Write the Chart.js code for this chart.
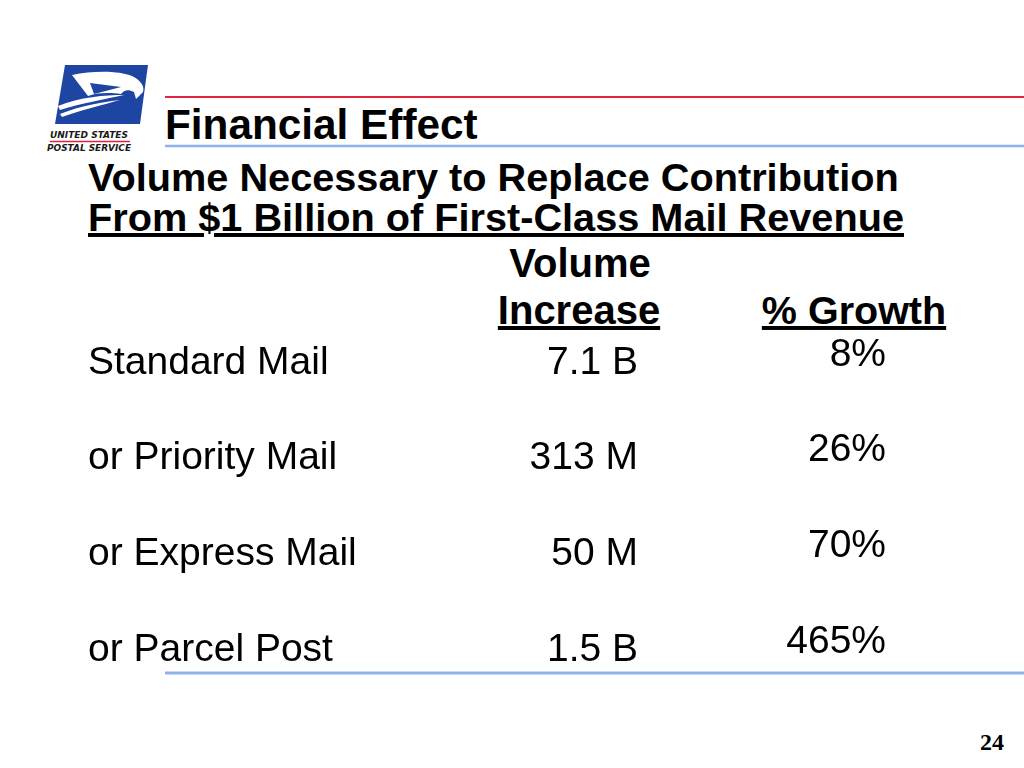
<!DOCTYPE html>
<html>
<head>
<meta charset="utf-8">
<title>Financial Effect</title>
<script src="https://cdn.jsdelivr.net/npm/chart.js@4.4.1/dist/chart.umd.min.js"></script>
<style>
  html, body { margin: 0; padding: 0; background: #fff; }
  #slide { position: relative; width: 1024px; height: 768px; overflow: hidden; font-family: "Liberation Sans", Arial, Helvetica, sans-serif; }
  #slide svg { position: absolute; left: 0; top: 0; }
  #tableWrap { position: absolute; left: 0; top: 291px; width: 1024px; height: 431px; }
</style>
</head>
<body>
<div id="slide">
  <svg width="1024" height="768" viewBox="0 0 1024 768">
    <!-- logo -->
    <polygon points="65,65 148,65 140,124 55,124" fill="#1f45a3"/>
    <path d="M72,75 C95,70 120,71 132,76 C140,80 145,86 143,92 L136,99 L134,92 C128,89 124,90 121,94 C112,93 100,92 88,96 Z" fill="#fff"/>
    <path d="M90,83 L121,87 L94,94 Z" fill="#1f45a3"/>
    <path d="M58,106 C80,97 105,95 124,95 C106,99 82,103 60,110 Z" fill="#fff"/>
    <path d="M60,114 C82,105 104,102 120,100 C103,105 84,109 62,117 Z" fill="#fff"/>
    <text x="50" y="138" font-family="DejaVu Sans, sans-serif" font-size="9.5" font-weight="bold" font-style="italic" textLength="78" lengthAdjust="spacingAndGlyphs" fill="#1a1a1a">UNITED STATES</text>
    <line x1="50" y1="141.5" x2="130" y2="141.5" stroke="#e0223c" stroke-width="1.5"/>
    <text x="47" y="151" font-family="DejaVu Sans, sans-serif" font-size="9.5" font-weight="bold" font-style="italic" textLength="84" lengthAdjust="spacingAndGlyphs" fill="#1a1a1a">POSTAL SERVICE</text>

    <!-- rules -->
    <line x1="165" y1="97" x2="1024" y2="97" stroke="#e2223e" stroke-width="2"/>
    <line x1="165" y1="146" x2="1024" y2="146" stroke="#8fb2ea" stroke-width="2.5"/>
    <line x1="165" y1="673" x2="1024" y2="673" stroke="#8fb2ea" stroke-width="3"/>

    <!-- headings -->
    <text x="165" y="139" font-size="42.3" font-weight="bold" fill="#000">Financial Effect</text>
    <text x="88" y="191" font-size="39.7" font-weight="bold" fill="#000">Volume Necessary to Replace Contribution</text>
    <text x="88" y="231" font-size="39.7" font-weight="bold" fill="#000" text-decoration="underline">From $1 Billion of First-Class Mail Revenue</text>
    <text x="580" y="277" font-size="40" font-weight="bold" fill="#000" text-anchor="middle">Volume</text>
    <text x="579" y="324" font-size="40" font-weight="bold" fill="#000" text-anchor="middle" text-decoration="underline">Increase</text>
    <text x="854" y="324" font-size="39.5" font-weight="bold" fill="#000" text-anchor="middle" text-decoration="underline">% Growth</text>

    <text x="1004" y="750" font-family="Liberation Serif, Times New Roman, serif" font-size="24" font-weight="bold" fill="#000" text-anchor="end">24</text>
  </svg>
  <div id="tableWrap"><canvas id="tableChart"></canvas></div>
</div>

<script>
// table rows
var rowLabels = ['Standard Mail', 'or Priority Mail', 'or Express Mail', 'or Parcel Post'];
var volumeLabels = ['7.1 B', '313 M', '50 M', '1.5 B'];
var volumeMillions = [7100, 313, 50, 1500];
var growthPct = [8, 26, 70, 465];

var FONT = '"Liberation Sans", Arial, Helvetica, sans-serif';

// draws the two value columns at the row positions of the y scale
var cellText = {
    id: 'cellText',
    afterDatasetsDraw: function (chart) {
        var ctx = chart.ctx;
        var y = chart.scales.y;
        ctx.save();
        ctx.font = '39px ' + FONT;
        ctx.fillStyle = '#000';
        ctx.textAlign = 'right';
        ctx.textBaseline = 'middle';
        for (var i = 0; i < rowLabels.length; i++) {
            var py = y.getPixelForValue(i);
            ctx.fillText(volumeLabels[i], 638, py);
            ctx.fillText(growthPct[i] + '%', 886, py - 8);
        }
        ctx.restore();
    }
};

var ctx = document.getElementById('tableChart').getContext('2d');
var tableChart = new Chart(ctx, {
    type: 'bar',
    data: {
        labels: rowLabels,
        datasets: [{
            label: 'Volume increase (millions)',
            data: volumeMillions,
            backgroundColor: 'rgba(0,0,0,0)',
            borderWidth: 0
        }]
    },
    options: {
        indexAxis: 'y',
        responsive: true,
        maintainAspectRatio: false,
        animation: false,
        layout: { padding: { top: 24, bottom: 24, left: 88, right: 0 } },
        plugins: {
            legend: { display: false },
            tooltip: { enabled: false }
        },
        scales: {
            x: { display: false, min: 0, max: 8000 },
            y: {
                offset: true,
                grid: { display: false },
                border: { display: false },
                ticks: {
                    color: '#000',
                    crossAlign: 'far',
                    padding: 0,
                    font: { family: FONT, size: 39 }
                }
            }
        }
    },
    plugins: [cellText]
});
</script>
</body>
</html>
